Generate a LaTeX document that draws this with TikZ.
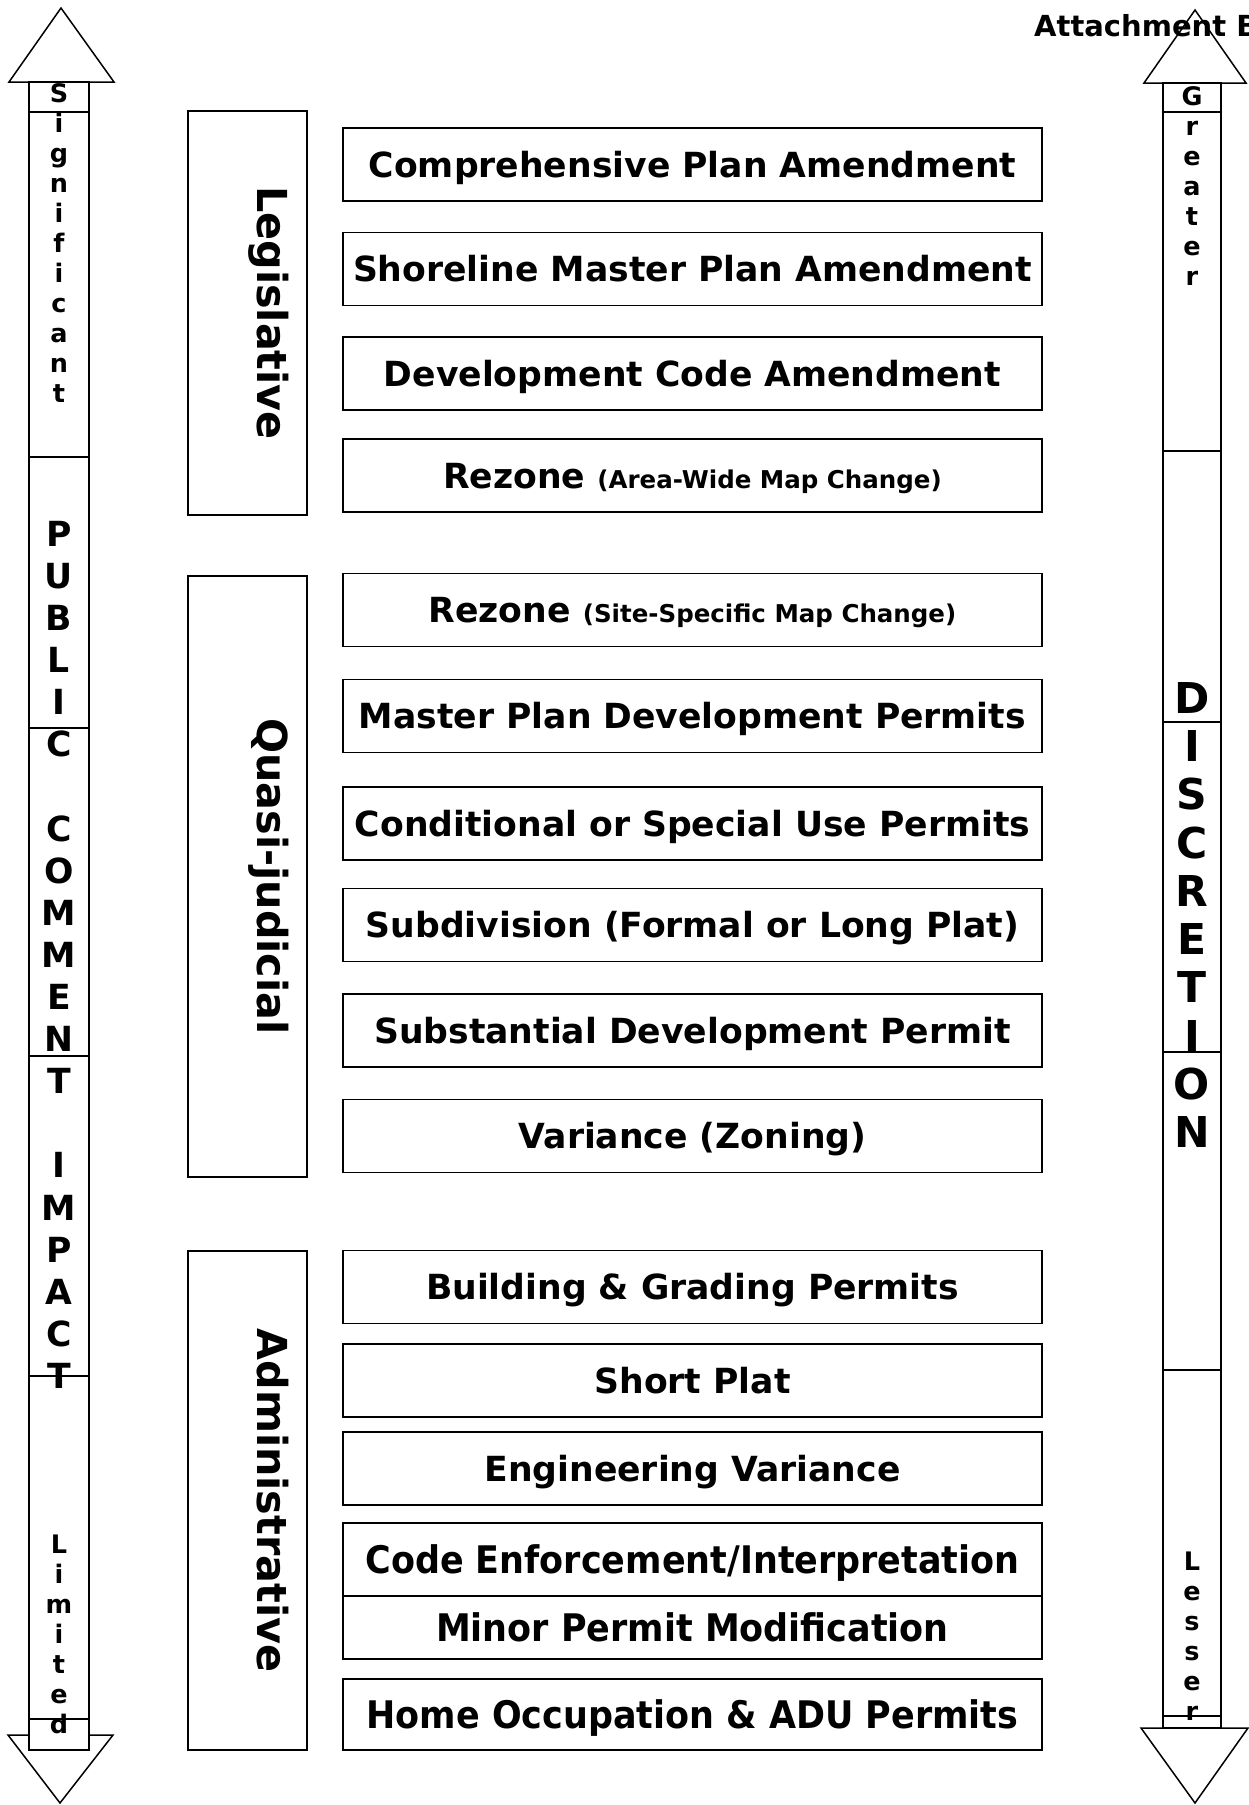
\documentclass[tikz,border=0pt]{standalone}
\usepackage{fontspec}
\setmainfont{DejaVu Sans}
\newfontfamily\narrowfont{DejaVu Sans}[FakeStretch=0.92]
\usetikzlibrary{positioning}

\tikzset{
  line/.style={draw, line width=1.5pt},
  permit/.style={line, minimum width=699pt, minimum height=73pt, inner sep=0pt,
    font=\fontsize{34.6}{42}\selectfont\bfseries, text height=25pt, text depth=0pt},
  narrowpermit/.style={permit, font=\fontsize{38}{42}\selectfont\narrowfont\bfseries, text height=27pt},
  group/.style={line, minimum width=119pt, inner sep=0pt},
  grouptext/.style={rotate=-90, inner sep=0pt, font=\fontsize{41.3}{48}\selectfont\bfseries,
    text height=30pt, text depth=0pt},
  smallstack/.style={anchor=north, inner sep=0pt, align=center, font=\fontsize{25.5}{30}\selectfont\bfseries},
  bigstack/.style={anchor=north, inner sep=0pt, align=center, font=\fontsize{34.6}{42.1}\selectfont\bfseries},
  hugestack/.style={anchor=north, inner sep=0pt, align=center, font=\fontsize{42.5}{48.3}\selectfont\bfseries},
}
\newcommand{\smallpar}[1]{{\fontsize{24.5}{30}\selectfont #1}}

\begin{document}
\begin{tikzpicture}[x=1pt, y=-1pt]
  \useasboundingbox (0,0) rectangle (1248,1805);

  % impact arrow (left)
  \draw[line, fill=white] (9,82) -- (61,8) -- (114,82) -- cycle;
  \draw[line, fill=white] (8,1735) -- (60,1803) -- (113,1735) -- cycle;
  \draw[line, fill=white] (29,82) rectangle (89,1750);
  \draw[line] (29,112) -- (89,112) (29,457) -- (89,457) (29,728) -- (89,728)
    (29,1056) -- (89,1056) (29,1376) -- (89,1376) (29,1719) -- (89,1719);
  \node[smallstack] (sig) at (59,83) {S\\i\\g\\n\\i\\f\\i\\c\\a\\n\\t};
  \node[bigstack] (pci) at (59,521) {P\\U\\B\\L\\I\\C\\~\\C\\O\\M\\M\\E\\N\\T\\~\\I\\M\\P\\A\\C\\T};
  \node[smallstack] (lim) at (59,1535) {L\\i\\m\\i\\t\\e\\d};

  % discretion arrow (right)
  \draw[line, fill=white] (1144,83) -- (1195,10) -- (1246,83) -- cycle;
  \draw[line, fill=white] (1141,1728) -- (1195,1803) -- (1248,1728) -- cycle;
  \draw[line, fill=white] (1163,83) rectangle (1221,1728);
  \draw[line] (1163,112) -- (1221,112) (1163,451) -- (1221,451) (1163,722) -- (1221,722)
    (1163,1052) -- (1221,1052) (1163,1370) -- (1221,1370) (1163,1716) -- (1221,1716);
  \node[smallstack] (grt) at (1192,86) {G\\r\\e\\a\\t\\e\\r};
  \node[hugestack] (disc) at (1192,682) {D\\I\\S\\C\\R\\E\\T\\I\\O\\N};
  \node[smallstack] (les) at (1192,1552) {L\\e\\s\\s\\e\\r};

  \node[anchor=base west, inner sep=0pt, font=\fontsize{29}{34}\selectfont\bfseries]
    (attach) at (1034,36) {Attachment B};

  % groups
  \node[group, minimum height=404pt] (legis) at (247.5,313) {};
  \node[grouptext] at ([xshift=25pt]legis.center) {Legislative};
  \node[group, minimum height=601pt] (quasi) at (247.5,876.5) {};
  \node[grouptext] at ([xshift=25pt]quasi.center) {Quasi-judicial};
  \node[group, minimum height=499pt] (admin) at (247.5,1500.5) {};
  \node[grouptext] at ([xshift=25pt]admin.center) {Administrative};

  % permit types
  \node[permit] (comp) at (692.5,164.5) {Comprehensive Plan Amendment};
  \node[permit] (shore) at (692.5,269) {Shoreline Master Plan Amendment};
  \node[permit] (devcode) at (692.5,373.5) {Development Code Amendment};
  \node[permit] (rzarea) at (692.5,475.5) {Rezone \smallpar{(Area-Wide Map Change)}};
  \node[permit] (rzsite) at (692.5,610) {Rezone \smallpar{(Site-Specific Map Change)}};
  \node[permit] (mpd) at (692.5,716) {Master Plan Development Permits};
  \node[permit] (cup) at (692.5,823.5) {Conditional or Special Use Permits};
  \node[permit] (subdiv) at (692.5,925) {Subdivision (Formal or Long Plat)};
  \node[permit] (sdp) at (692.5,1030.5) {Substantial Development Permit};
  \node[permit] (var) at (692.5,1136) {Variance (Zoning)};
  \node[permit] (bldg) at (692.5,1287) {Building \& Grading Permits};
  \node[permit] (short) at (692.5,1380.5) {Short Plat};
  \node[permit] (engvar) at (692.5,1468.5) {Engineering Variance};
  \node[narrowpermit] (codeenf) at (692.5,1559.5) {Code Enforcement/Interpretation};
  \node[narrowpermit, minimum height=63pt] (minor) at (692.5,1627.5) {Minor Permit Modification};
  \node[narrowpermit, minimum height=71pt] (home) at (692.5,1714.5) {Home Occupation \& ADU Permits};
\end{tikzpicture}
\end{document}
